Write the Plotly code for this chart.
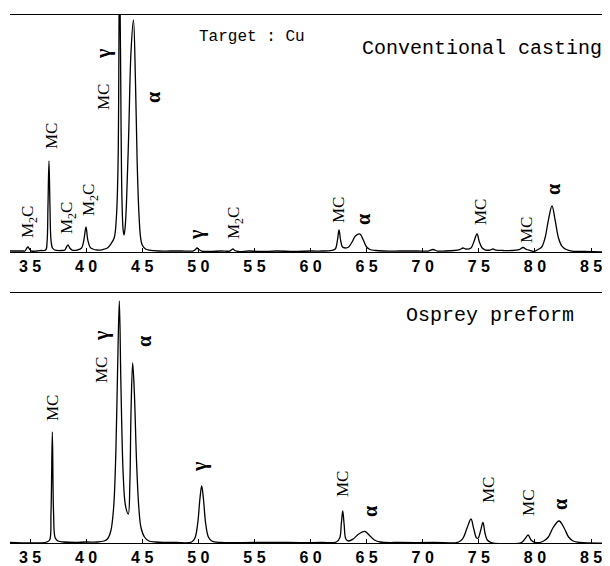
import plotly.graph_objects as go
from plotly.subplots import make_subplots

# ---------------- data (2-theta in degrees, intensity in arbitrary units) ----------------
cast_2theta = [33.2, 34.4, 34.55, 34.72, 34.82, 34.95, 35.15, 35.6, 36.0, 36.4, 36.52, 36.6, 36.69,
               36.78, 36.87, 37.0, 37.2, 37.8, 38.1, 38.25, 38.39, 38.55, 38.75, 39.2, 39.6, 39.8,
               39.99, 40.15, 40.35, 40.6, 41.0, 41.5, 41.9, 42.2, 42.5, 42.7, 42.85, 42.98, 43.12,
               43.2, 43.3, 43.38, 43.48, 43.6, 43.8, 44.0, 44.22, 44.4, 44.55, 44.7, 44.85, 45.0,
               45.3, 45.6, 46.5, 47.5, 48.5, 49.5, 49.7, 49.88, 50.05, 50.3, 51.0, 52.0, 52.8, 53.0,
               53.09, 53.25, 53.6, 54.5, 55.5, 57.0, 58.5, 60.0, 61.0, 61.8, 62.2, 62.4, 62.54,
               62.68, 62.85, 63.1, 63.4, 63.7, 64.0, 64.41, 64.7, 65.0, 65.3, 65.8, 66.5, 68.0,
               69.5, 70.5, 70.92, 71.3, 72.0, 72.8, 73.3, 73.59, 73.85, 74.3, 74.55, 74.84, 75.05,
               75.3, 75.6, 76.0, 76.27, 76.5, 77.2, 78.0, 78.6, 78.94, 79.25, 79.6, 79.9, 80.2,
               80.6, 80.9, 81.2, 81.52, 81.8, 82.1, 82.4, 82.8, 83.3, 84.5, 86.7]
cast_intensity = [1, 1, 1, 4, 5, 3, 1, 1, 1.5, 2, 10, 45, 91,
                  45, 12, 4, 2, 1.5, 2, 5, 7, 4, 2, 2, 4, 12,
                  25, 12, 5, 3, 2, 2.5, 4, 8, 14, 35, 90, 300, 120,
                  50, 22, 17, 25, 50, 120, 200, 232, 170, 90, 40, 15, 7,
                  3, 2, 1, 1, 1, 1, 2, 4, 2.5, 1, 0.5, 1, 1, 2.5,
                  3, 1.5, 0.5, 1, 0.5, 1, 0.5, 1, 1, 1.5, 3, 12, 22,
                  12, 5, 4, 5, 10, 16, 18, 12, 5, 2.5, 1.5, 1, 1,
                  1, 1, 2.5, 1, 1, 1.5, 2.5, 4, 3, 4, 10, 18, 10,
                  4, 2, 2, 3, 2, 1.5, 1.5, 2.5, 4.5, 2.5, 1.5, 0.5, 2,
                  5, 14, 32, 46, 32, 14, 6, 2.5, 1, 0.5, 0]

osprey_2theta = [33.2, 36.5, 36.75, 36.87, 36.99, 37.1, 37.25, 37.5, 38.0, 39.0, 40.0, 41.0, 41.6,
                 41.9, 42.2, 42.45, 42.65, 42.8, 42.96, 43.1, 43.3, 43.5, 43.76, 43.9, 44.0, 44.15,
                 44.3, 44.5, 44.7, 44.9, 45.2, 45.6, 46.2, 48.0, 49.4, 49.7, 49.95, 50.15, 50.3,
                 50.45, 50.65, 50.9, 51.2, 52.0, 55.0, 58.0, 61.0, 62.3, 62.6, 62.75, 62.87, 63.0,
                 63.15, 63.4, 63.8, 64.3, 64.86, 65.3, 65.7, 66.2, 68.0, 71.0, 73.2, 73.6, 73.95,
                 74.3, 74.55, 74.8, 74.95, 75.15, 75.37, 75.55, 75.75, 76.1, 78.8, 79.1, 79.39,
                 79.65, 80.0, 80.7, 81.2, 81.6, 82.15, 82.6, 83.0, 83.4, 84.0, 86.7]
osprey_intensity = [0.5, 1, 3, 30, 111, 30, 5, 2, 1, 0.5, 1, 1, 2,
                    4, 12, 35, 90, 170, 242, 160, 70, 38, 29, 60, 130, 180,
                    150, 80, 35, 15, 6, 2, 1, 0.5, 1, 5, 20, 45, 57,
                    45, 20, 6, 2, 0.5, 0.5, 0.5, 0.5, 1, 5, 20, 32, 18,
                    4, 2, 4, 9, 11.5, 7, 3, 1, 0.5, 0.5, 1, 5, 15,
                    24, 14, 5, 5, 12, 20.5, 10, 3, 0.5, 0.5, 4, 8,
                    3, 0.5, 1.5, 6, 15, 22, 15, 6, 2, 0.5, 0]

tick_values = [35, 40, 45, 50, 55, 60, 65, 70, 75, 80, 85]
tick_labels = ["3 5", "4 0", "4 5", "5 0", "5 5", "6 0", "6 5", "7 0", "7 5", "8 0", "8 5"]

# peak labels: (text, 2theta, intensity)
cast_label_text = ["M<sub>2</sub>C", "MC", "M<sub>2</sub>C", "M<sub>2</sub>C", "MC", "γ", "α", "γ",
                   "M<sub>2</sub>C", "MC", "α", "MC", "MC", "α"]
cast_label_x = [34.91, 36.87, 38.39, 40.35, 41.51, 41.51, 45.96, 49.80, 53.27, 62.45, 64.68, 75.11, 79.21, 81.61]
cast_label_y = [30, 116, 34, 52, 155, 198, 155, 17, 29, 42, 32, 40, 22, 62]

osprey_label_text = ["MC", "MC", "γ", "α", "γ", "MC", "α", "MC", "MC", "α"]
osprey_label_x = [37.05, 41.42, 41.42, 45.16, 50.06, 62.81, 65.30, 75.82, 79.38, 82.24]
osprey_label_y = [135, 173, 207, 201, 77, 59, 32, 53, 40, 38]

# ---------------- figure ----------------
# the page body adds an 8 px margin, so the figure is 8 px smaller and shifted accordingly
fig = make_subplots(rows=2, cols=1, vertical_spacing=0.0775, row_heights=[0.4489, 0.4735])

line_style = dict(color="black", width=1.3)
fig.add_trace(go.Scatter(x=cast_2theta, y=cast_intensity, mode="lines", line=line_style,
                         line_shape="spline", showlegend=False, hoverinfo="skip"), row=1, col=1)
fig.add_trace(go.Scatter(x=osprey_2theta, y=osprey_intensity, mode="lines", line=line_style,
                         line_shape="spline", showlegend=False, hoverinfo="skip"), row=2, col=1)

xrange = [33.217, 86.69]
xaxis_style = dict(range=xrange, tickmode="array", tickvals=tick_values, ticktext=tick_labels,
                   ticks="inside", ticklen=4, tickcolor="black", tickwidth=1,
                   showline=True, linecolor="black", linewidth=1.3, mirror=True,
                   showgrid=False, zeroline=False,
                   tickfont=dict(family="Liberation Sans", size=16, color="black", weight="bold"))
fig.update_xaxes(**xaxis_style)
fig.update_yaxes(showgrid=False, zeroline=False, showticklabels=False, showline=False, ticks="")
fig.update_yaxes(range=[0, 237], row=1, col=1)
fig.update_yaxes(range=[0, 250], row=2, col=1)

fig.update_layout(
    width=602, height=558,
    margin=dict(l=2, r=0, t=7, b=23),
    plot_bgcolor="white", paper_bgcolor="white",
)
fig.layout.yaxis.domain = [0.5511, 1.0]
fig.layout.yaxis2.domain = [0.0, 0.4735]


def label_font(text):
    greek = text in ("α", "γ")
    return dict(family="Liberation Serif", size=20 if greek else 17, color="black",
                weight="bold" if greek else "normal")


for t, x, y in zip(cast_label_text, cast_label_x, cast_label_y):
    fig.add_annotation(x=x, y=y, xref="x", yref="y", text=t, textangle=-90, showarrow=False,
                       font=label_font(t), xanchor="center", yanchor="middle")
for t, x, y in zip(osprey_label_text, osprey_label_x, osprey_label_y):
    fig.add_annotation(x=x, y=y, xref="x2", yref="y2", text=t, textangle=-90, showarrow=False,
                       font=label_font(t), xanchor="center", yanchor="middle")

mono = "Liberation Mono"
fig.add_annotation(x=54.79, y=215, xref="x", yref="y", text="Target : Cu", showarrow=False,
                   font=dict(family=mono, size=16, color="black"), xanchor="center", yanchor="middle")
fig.add_annotation(x=75.28, y=204, xref="x", yref="y", text="Conventional casting", showarrow=False,
                   font=dict(family=mono, size=20, color="black"), xanchor="center", yanchor="middle")
fig.add_annotation(x=76.0, y=227, xref="x2", yref="y2", text="Osprey preform", showarrow=False,
                   font=dict(family=mono, size=20, color="black"), xanchor="center", yanchor="middle")

fig.write_html("out.html")
